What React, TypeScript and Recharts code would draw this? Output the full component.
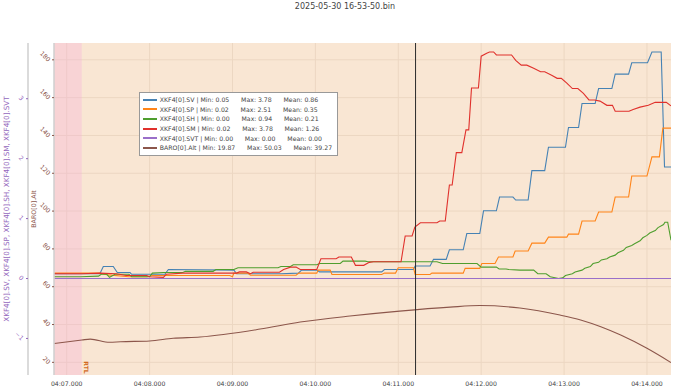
import { CartesianGrid, Legend, Line, LineChart, ReferenceArea, ReferenceLine, XAxis, YAxis } from "recharts";

const FONT = "'DejaVu Sans', Verdana, sans-serif";

// time = seconds after 04:07:00, value pairs
const SV: [number, number][] = [
  [-9, 0.08], [24, 0.08], [26.5, 0.2], [33.7, 0.2], [36.6, 0.1], [45.8, 0.1], [47, 0.07], [71, 0.07],
  [73.6, 0.15], [121, 0.14], [123, 0.08], [155, 0.08], [167.7, 0.09], [170, 0.14], [181, 0.14], [183, 0.11],
  [228, 0.11], [230, 0.15], [251, 0.15], [252.2, 0.21], [263, 0.21], [265.5, 0.32], [274.7, 0.32], [277, 0.48],
  [287, 0.48], [289.6, 0.75], [299, 0.75], [301.7, 1.13], [311, 1.13], [313.3, 1.36], [323, 1.36], [325, 1.31],
  [334, 1.31], [336.7, 1.8], [346, 1.8], [348.7, 2.19], [361, 2.19], [363.2, 2.52], [370.5, 2.52], [373, 2.92],
  [382.5, 2.92], [385, 3.17], [394.6, 3.17], [397, 3.41], [406.7, 3.41], [409, 3.6], [420.4, 3.6], [423.6, 3.78],
  [430.3, 3.78], [432.7, 1.86], [437.4, 1.86],
];

const SP: [number, number][] = [
  [-9, 0.09], [24, 0.09], [30, 0.06], [45, 0.03], [58, 0.03], [62, 0.05], [118, 0.05], [120, 0.03],
  [121, 0.09], [131, 0.09], [133, 0.055], [166, 0.055], [168, 0.09], [181, 0.09], [182, 0.14], [190.7, 0.14],
  [192, 0.067], [228, 0.067], [230, 0.09], [238, 0.09], [240, 0.18], [251, 0.18], [252.2, 0.067], [263, 0.067],
  [264.3, 0.09], [287, 0.09], [288.4, 0.17], [299, 0.17], [300.5, 0.25], [310, 0.25], [312.5, 0.36], [323, 0.36],
  [324.6, 0.46], [334, 0.46], [336.7, 0.59], [346, 0.59], [348.7, 0.69], [362, 0.69], [363.2, 0.74], [370.5, 0.74],
  [373, 0.96], [382.5, 0.96], [385, 1.11], [394.6, 1.11], [397, 1.36], [406.7, 1.36], [409, 1.71], [420, 1.71],
  [423.6, 2.03], [429, 2.03], [431.5, 2.51], [437.4, 2.51],
];

const SH: [number, number][] = [
  [-9, 0.03], [10, 0.03], [23, 0.04], [25, 0.07], [29, 0.07], [31, 0.02], [35, 0.07], [45, 0.07],
  [47, 0.03], [60, 0.03], [62, 0.09], [70, 0.1], [84, 0.1], [86, 0.12], [106, 0.12], [108, 0.15],
  [121, 0.15], [124, 0.18], [153, 0.18], [155, 0.2], [162, 0.2], [164, 0.23], [181, 0.23], [183, 0.25],
  [198, 0.25], [200, 0.29], [216, 0.29], [218, 0.28], [268, 0.28], [272, 0.25], [297, 0.25], [300, 0.19],
  [311, 0.19], [313, 0.16], [318, 0.16], [320, 0.15], [328, 0.14], [338, 0.14], [341, 0.08], [347, 0.08],
  [350, 0.03], [356, 0.0], [359, 0.01], [361, 0.05], [366, 0.08], [368, 0.11], [373, 0.14], [375, 0.17],
  [379, 0.2], [381, 0.25], [385, 0.27], [387, 0.31], [391, 0.33], [393, 0.36], [397, 0.39], [399, 0.43],
  [403, 0.47], [405, 0.52], [409, 0.55], [411, 0.58], [415, 0.63], [417, 0.68], [420, 0.72], [422, 0.76],
  [426, 0.8], [428, 0.85], [432, 0.9], [433, 0.94], [435, 0.94], [437.4, 0.64],
];

const SM: [number, number][] = [
  [-9, 0.08], [11, 0.08], [24, 0.09], [36, 0.08], [43, 0.05], [58, 0.05], [60, 0.03], [70, 0.02],
  [72, 0.07], [84, 0.09], [123, 0.09], [125, 0.11], [130, 0.11], [133, 0.08], [135, 0.105], [154, 0.105],
  [157, 0.15], [162, 0.19], [166, 0.19], [169, 0.15], [181, 0.15], [184, 0.33], [195, 0.33], [197, 0.36],
  [206, 0.36], [209, 0.22], [215, 0.22], [219, 0.27], [222, 0.28], [242, 0.28], [245, 0.71], [250, 0.71],
  [252, 0.86], [256, 0.93], [268, 0.93], [270, 0.96], [274, 0.96], [277, 1.56], [279, 1.56], [282, 2.1],
  [286, 2.1], [289, 2.48], [291, 2.48], [293, 3.18], [298, 3.18], [300, 3.71], [304, 3.76], [306, 3.78],
  [309, 3.78], [311, 3.73], [322, 3.73], [325, 3.64], [329, 3.56], [333, 3.56], [338, 3.51], [343, 3.45],
  [346, 3.45], [351, 3.39], [355, 3.34], [358, 3.34], [362, 3.26], [366, 3.17], [370, 3.17], [374, 3.09],
  [378, 2.98], [382, 2.98], [386, 2.96], [391, 2.89], [395, 2.89], [397, 2.79], [407, 2.79], [410, 2.82],
  [415, 2.86], [421, 2.89], [426, 2.94], [434, 2.94], [437.4, 2.88],
];

const SVT: [number, number][] = [[-9, 0], [437.4, 0]];

const BARO: [number, number][] = [
  [-9, 30.0], [11, 31.8], [17, 32.3], [31, 30.6], [39, 30.9], [60, 31.3], [77, 32.7], [96.5, 33.4],
  [140, 37.6], [169, 41.3], [205, 44.5], [241, 47.1], [277.5, 49.2], [299, 50.03], [328, 48.7], [357, 45.0],
  [372, 42.4], [386.6, 38.8], [401, 34.4], [420, 27.4], [437.4, 19.87],
];

const NAMES = ["XKF4[0].SV", "XKF4[0].SP", "XKF4[0].SH", "XKF4[0].SM", "XKF4[0].SVT", "BARO[0].Alt"];
const MINS = ["0.05", "0.02", "0.00", "0.02", "0.00", "19.87"];
const MAXS = ["3.78", "2.51", "0.94", "3.78", "0.00", "50.03"];
const MEANS = ["0.86", "0.35", "0.21", "1.26", "0.00", "39.27"];
const COLORS = ["#4682b4", "#ff8418", "#4f9e2e", "#e0312c", "#9a6fc9", "#8c564b"];

const X_TICKS = [0, 60, 120, 180, 240, 300, 360, 420];
const KF_TICKS = [-1, 0, 1, 2, 3];
const BARO_TICKS = [20, 40, 60, 80, 100, 120, 140, 160, 180];

const RTL_END = 10.9;
const CURSOR_T = 252.5;

const rows = (pairs: [number, number][]) => pairs.map(([t, v]) => ({ t, v }));

const fmtTime = (t: number) => `04:${String(7 + Math.round(t / 60)).padStart(2, "0")}.000`;

const XTick = (props: any) => {
  const { x, y, payload } = props;
  return (
    <text x={x} y={y + 8.5} textAnchor="middle" fontSize={6.2} fill="#444" fontFamily={FONT}>
      {fmtTime(payload.value)}
    </text>
  );
};

const yTick = (color: string, dx: number) => (props: any) => {
  const { x, y, payload } = props;
  const ax = x + dx;
  const ay = y + 0.5;
  const label = payload.value < 0 ? `\u2212${Math.abs(payload.value)}` : String(payload.value);
  return (
    <text x={ax} y={ay} transform={`rotate(45 ${ax} ${ay})`} textAnchor="end" dominantBaseline="central" fontSize={6.2} fill={color} fontFamily={FONT}>
      {label}
    </text>
  );
};

const axisTitle = (text: string, color: string, dx: number, size: number) => (props: any) => {
  const vb = props.viewBox;
  const cx = vb.x + dx;
  const cy = vb.y + vb.height / 2;
  return (
    <text x={cx} y={cy} transform={`rotate(-90 ${cx} ${cy})`} textAnchor="middle" dominantBaseline="central" fontSize={size} fill={color} fontFamily={FONT}>
      {text}
    </text>
  );
};

const rtlLabel = (props: any) => {
  const vb = props.viewBox;
  const cx = vb.x + vb.width + 5;
  const cy = vb.y + vb.height - 7.5;
  return (
    <text x={cx} y={cy} transform={`rotate(90 ${cx} ${cy})`} textAnchor="middle" dominantBaseline="central" fontSize={6} fontWeight="bold" fill="#d2691e" fontFamily={FONT}>
      RTL
    </text>
  );
};

function LegendBox() {
  return (
    <div style={{ background: "#fff", border: "1px solid #999", padding: "2px 5px 2px 2.5px", fontFamily: FONT, fontSize: 6.2, color: "#444", whiteSpace: "pre" }}>
      {NAMES.map((name, i) => (
        <div key={name} style={{ display: "flex", alignItems: "center", height: 9.6 }}>
          <span style={{ display: "inline-block", width: 14.6, height: 2, background: COLORS[i], marginRight: 2.7 }} />
          <span>{`${name} | Min: ${MINS[i]}      Max: ${MAXS[i]}      Mean: ${MEANS[i]}`}</span>
        </div>
      ))}
    </div>
  );
}

export default function App() {
  const kf = [SV, SP, SH, SM, SVT];
  return (
    <div style={{ position: "absolute", left: 0, top: 0, width: 690, height: 389, background: "#fff", fontFamily: FONT }}>
      <div style={{ position: "absolute", top: 3.2, left: 0, width: 690, textAlign: "center", fontSize: 8, lineHeight: "8px", color: "#444" }}>
        2025-05-30 16-53-50.bin
      </div>
      <LineChart width={690} height={389} margin={{ top: 43, right: 19, bottom: 0, left: 0 }}>
        <CartesianGrid yAxisId="baro" fill="#f9e6d3" stroke="#ecd7c2" horizontalValues={BARO_TICKS} verticalValues={X_TICKS} />
        <XAxis
          dataKey="t"
          type="number"
          domain={[-9.2, 437.4]}
          ticks={X_TICKS}
          allowDataOverflow
          height={14}
          axisLine={false}
          tickLine={false}
          tickSize={0}
          tick={<XTick />}
        />
        <YAxis
          yAxisId="baro"
          orientation="left"
          type="number"
          domain={[13.3, 188.9]}
          ticks={BARO_TICKS}
          allowDataOverflow
          width={26}
          tickSize={2}
          tickMargin={0}
          axisLine={{ stroke: "#cfcfcf", strokeWidth: 1.5 }}
          tickLine={{ stroke: "#8c564b" }}
          tick={yTick("#8c564b", -2.5)}
          label={axisTitle("BARO[0].Alt", "#8c564b", 5.3, 6.3)}
        />
        <YAxis
          yAxisId="kf"
          orientation="left"
          type="number"
          domain={[-1.61, 3.93]}
          ticks={KF_TICKS}
          allowDataOverflow
          width={28}
          tickSize={2}
          tickMargin={0}
          axisLine={{ stroke: "#cfcfcf", strokeWidth: 1.5 }}
          tickLine={{ stroke: "#9467bd" }}
          tick={yTick("#9467bd", -3.3)}
          label={axisTitle("XKF4[0].SV, XKF4[0].SP, XKF4[0].SH, XKF4[0].SM, XKF4[0].SVT", "#9467bd", 6.7, 7.2)}
        />
        <ReferenceArea yAxisId="kf" x1={-9.2} x2={RTL_END} fill="#f6aada" fillOpacity={0.3} stroke="none" label={rtlLabel} />
        {kf.map((s, i) => (
          <Line
            key={NAMES[i]}
            yAxisId="kf"
            data={rows(s)}
            dataKey="v"
            name={NAMES[i]}
            type="linear"
            stroke={COLORS[i]}
            strokeWidth={1.1}
            dot={false}
            activeDot={false}
            isAnimationActive={false}
          />
        ))}
        <Line
          yAxisId="baro"
          data={rows(BARO)}
          dataKey="v"
          name={NAMES[5]}
          type="monotone"
          stroke={COLORS[5]}
          strokeWidth={1.1}
          dot={false}
          activeDot={false}
          isAnimationActive={false}
        />
        <ReferenceLine yAxisId="kf" x={CURSOR_T} stroke="#2b2b2b" strokeWidth={1} />
        <Legend
          layout="vertical"
          align="center"
          verticalAlign="middle"
          wrapperStyle={{ left: 139, top: 92, width: "auto", height: "auto" }}
          content={() => <LegendBox />}
        />
      </LineChart>
    </div>
  );
}
